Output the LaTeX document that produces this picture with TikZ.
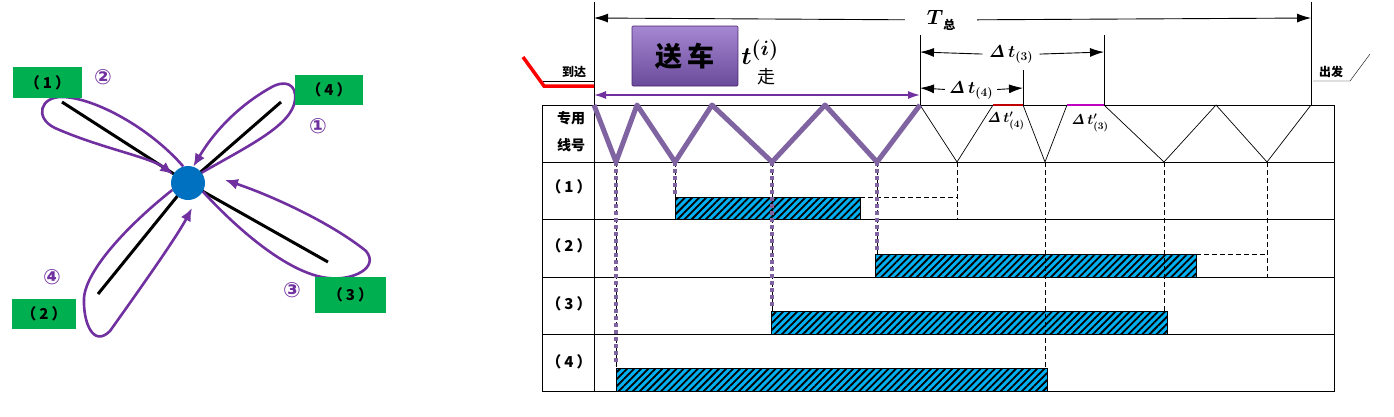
\documentclass[tikz,border=0pt]{standalone}
\usepackage{amsmath}
\usepackage{bm}
\usepackage[no-math]{fontspec}
\newfontfamily\cjk{Noto Sans CJK SC}
\newfontfamily\dejavu{DejaVu Sans}
\usetikzlibrary{arrows.meta,patterns.meta}
\definecolor{loopviolet}{RGB}{112,48,160}
\definecolor{lineviolet}{RGB}{128,100,162}
\definecolor{labelgreen}{RGB}{0,176,80}
\definecolor{hubblue}{RGB}{0,112,192}
\definecolor{barcyan}{RGB}{0,176,240}
\definecolor{gapred}{RGB}{192,0,0}
\definecolor{gapmagenta}{RGB}{192,0,192}
\definecolor{boxtop}{RGB}{165,135,210}
\definecolor{boxbot}{RGB}{105,75,155}
\newcommand{\lineno}[1]{（\hspace{3pt}#1\hspace{3pt}）}

\begin{document}
\begin{tikzpicture}[x=1pt,y=-1pt,
  tag/.style={fill=labelgreen,inner sep=0pt,font=\cjk\bfseries\fontsize{15}{15}\selectfont},
  circnum/.style={text=loopviolet,inner sep=0pt,font=\dejavu\bfseries\fontsize{21}{21}\selectfont},
  loopline/.style={draw=loopviolet,line width=2.6pt,-{Latex[length=13pt,width=11pt]}},
  spoke/.style={line width=3pt},
  rowlab/.style={inner sep=0pt,font=\cjk\bfseries\fontsize{15}{15}\selectfont},
  headlab/.style={inner sep=0pt,font=\cjk\bfseries\fontsize{14}{14}\selectfont},
  smalllab/.style={inner sep=0pt,font=\cjk\bfseries\fontsize{12}{12}\selectfont},
  dimline/.style={-{Latex[length=14pt,width=9pt]},line width=0.9pt},
  dimlab/.style={inner sep=0pt,font=\fontsize{17}{17}\selectfont},
  biglab/.style={inner sep=0pt,font=\fontsize{21}{21}\selectfont},
  primelab/.style={inner sep=0pt,font=\fontsize{14}{14}\selectfont},
  walklab/.style={inner sep=0pt,font=\fontsize{28}{28}\selectfont},
  sendbox/.style={draw=loopviolet!70!black,line width=0.6pt,top color=boxtop,bottom color=boxbot,
    minimum width=106pt,minimum height=60pt,rounded corners=1pt,
    font=\cjk\bfseries\fontsize{27}{27}\selectfont},
  zig/.style={draw=lineviolet,line width=5pt,line join=round},
  guide/.style={dash pattern=on 5pt off 3pt,line width=0.7pt},
  trace/.style={draw=lineviolet,line width=3.5pt,dash pattern=on 4pt off 3pt},
  bar/.style={draw=black,line width=1pt,preaction={fill=barcyan},
    pattern={Lines[angle=45,distance=5pt,line width=1.8pt]}}
]
\useasboundingbox (0,0) rectangle (1394,416);

% left: four loops around the hub
\coordinate (s1) at (62,102);
\coordinate (s3) at (328,262);
\coordinate (s4) at (281,102);
\coordinate (s2) at (98,294);
\coordinate (hubc) at (188,183);
\draw[spoke] (s1) -- (hubc) -- (s3);
\draw[spoke] (s4) -- (hubc) -- (s2);
\node[circle,fill=hubblue,minimum size=34pt,inner sep=0pt] (hub) at (hubc) {};

\coordinate (in3) at (225,180);
\coordinate (in2) at (192,208);
\draw[loopline] (hub.106) .. controls (150,128) and (95,98) .. (63,97)
  .. controls (40,96) and (34,118) .. (55,128)
  .. controls (100,148) and (150,157) .. (hub.150);
\draw[loopline] (hub.37) .. controls (250,145) and (292,125) .. (295,100)
  .. controls (297,84) and (285,79) .. (270,88)
  .. controls (240,105) and (215,130) .. (hub.72);
\draw[loopline] (hub.-30) .. controls (240,232) and (290,274) .. (328,278)
  .. controls (352,281) and (380,268) .. (366,251)
  .. controls (330,222) and (270,195) .. (in3);
\draw[loopline] (hub.204) .. controls (128,225) and (86,270) .. (84,298)
  .. controls (83,322) and (93,348) .. (110,331)
  .. controls (132,300) and (175,240) .. (in2);

\node[tag,minimum width=69pt,minimum height=31pt] (tag1) at (47.5,82.5) {\lineno{1}};
\node[tag,minimum width=68pt,minimum height=30pt] (tag4) at (329,90) {\lineno{4}};
\node[tag,minimum width=71pt,minimum height=36pt] (tag3) at (350.5,295) {\lineno{3}};
\node[tag,minimum width=64pt,minimum height=30pt] (tag2) at (44,314) {\lineno{2}};

\node[circnum] (num2) at (103,77) {②};
\node[circnum] (num1) at (318,126) {①};
\node[circnum] (num3) at (292,290) {③};
\node[circnum] (num4) at (52,277) {④};

% right: timing chart
\draw[line width=0.8pt] (542,105) rectangle (1334,391);
\foreach \y in {162,219,277,334}
  \draw[line width=0.8pt] (542,\y) -- (1334,\y);
\draw[line width=0.8pt] (594,2) -- (594,391);
\draw[line width=0.8pt] (1311,2) -- (1311,105);
\draw (920,35) -- (920,105);
\draw (1104,35) -- (1104,105);
\draw (1023,70) -- (1023,105);

\node[headlab] (head1) at (571,118) {专用};
\node[headlab] (head2) at (571,145) {线号};
\node[rowlab] (row1) at (569,187) {\lineno{1}};
\node[rowlab] (row2) at (569,246) {\lineno{2}};
\node[rowlab] (row3) at (569,304) {\lineno{3}};
\node[rowlab] (row4) at (569,362) {\lineno{4}};

% arrival and departure
\coordinate (arrA) at (523,57);
\coordinate (arrB) at (544,86);
\coordinate (arrC) at (594,86);
\draw[red,line width=3.5pt] (arrA) -- (arrB) -- (arrC);
\draw (543,81) -- (594,81);
\node[smalllab] (arrive) at (574,72) {到达};
\coordinate (depA) at (1313,81);
\coordinate (depB) at (1350,81);
\coordinate (depC) at (1370,54);
\draw (depA) -- (depB) -- (depC);
\node[smalllab] (depart) at (1331,72) {出发};

% dimensions
\coordinate (tl) at (594,18);
\coordinate (tr) at (1311,18);
\node[biglab,minimum width=72pt] (ttot) at (941,20) {$\bm{T}$\raisebox{-5pt}{\cjk\bfseries\fontsize{12}{12}\selectfont 总}};
\draw[dimline] (ttot) -- (tl);
\draw[dimline] (ttot) -- (tr);

\coordinate (d3l) at (920,52);
\coordinate (d3r) at (1104,52);
\node[dimlab,minimum width=57pt] (dt3) at (1011,55) {$\bm{\mathit{\Delta}\,t_{(3)}}$};
\draw[dimline] (dt3) -- (d3l);
\draw[dimline] (dt3) -- (d3r);

\coordinate (d4l) at (920,88);
\coordinate (d4r) at (1023,88);
\node[dimlab,minimum width=52pt] (dt4) at (971,91) {$\bm{\mathit{\Delta}\,t_{(4)}}$};
\draw[dimline] (dt4) -- (d4l);
\draw[dimline] (dt4) -- (d4r);

\node[primelab] (dtp4) at (1006,121) {$\bm{\mathit{\Delta}\,t'_{(4)}}$};
\node[primelab] (dtp3) at (1090,123) {$\bm{\mathit{\Delta}\,t'_{(3)}}$};

% delivery time
\coordinate (wl) at (594,95);
\coordinate (wr) at (920,95);
\draw[draw=loopviolet,line width=1.6pt,{Latex[length=12pt,width=8pt]}-{Latex[length=12pt,width=8pt]}] (wl) -- (wr);
\node[sendbox] (send) at (685,56) {送\,车};
\node[walklab] (twalk) at (760,52) {$\bm{t^{(i)}}$};
\node[inner sep=0pt,font=\cjk\fontsize{18}{18}\selectfont] (walk) at (766,77) {走};

% zigzag of the shunting engine
\coordinate (z0) at (594,105);
\coordinate (b1) at (616,162);
\coordinate (z1) at (637,105);
\coordinate (b2) at (675,162);
\coordinate (z2) at (712,105);
\coordinate (b3) at (772,162);
\coordinate (z3) at (825,105);
\coordinate (b4) at (877,162);
\coordinate (z4) at (920,105);
\coordinate (b5) at (957,162);
\coordinate (z5) at (993,105);
\coordinate (z6) at (1023,105);
\coordinate (b6) at (1045,162);
\coordinate (z7) at (1067,105);
\coordinate (z8) at (1104,105);
\coordinate (b7) at (1164,162);
\coordinate (z9) at (1216,105);
\coordinate (b8) at (1267,162);
\coordinate (z10) at (1311,105);
\draw[line width=0.7pt] (z4) -- (b5) -- (z5);
\draw[line width=0.7pt] (z6) -- (b6) -- (z7);
\draw[line width=0.7pt] (z8) -- (b7) -- (z9) -- (b8) -- (z10);
\draw[gapred,line width=2pt] (z5) -- (z6);
\draw[gapmagenta,line width=2pt] (z7) -- (z8);

% occupation bars
\draw[bar] (675,197) rectangle (860,219);
\draw[bar] (875,254) rectangle (1196,277);
\draw[bar] (771,311) rectangle (1167,334);
\draw[bar] (616,368) rectangle (1047,391);

\draw[guide] (860,197) -- (957,197);
\draw[guide] (b5) -- (957,219);
\draw[guide] (1196,254) -- (1267,254);
\draw[guide] (b8) -- (1267,277);
\draw[guide] (b7) -- (1164,311);
\draw[guide] (b6) -- (1045,368);

\draw[guide] (b1) -- (616,368);
\draw[guide] (b2) -- (675,197);
\draw[guide] (b3) -- (772,311);
\draw[guide] (b4) -- (877,254);
\draw[trace] (b1) -- (616,365);
\draw[trace] (b2) -- (675,194);
\draw[trace] (b3) -- (772,308);
\draw[trace] (b4) -- (877,251);

\draw[zig] (z0) -- (b1) -- (z1) -- (b2) -- (z2) -- (b3) -- (z3) -- (b4) -- (z4);
\end{tikzpicture}
\end{document}
